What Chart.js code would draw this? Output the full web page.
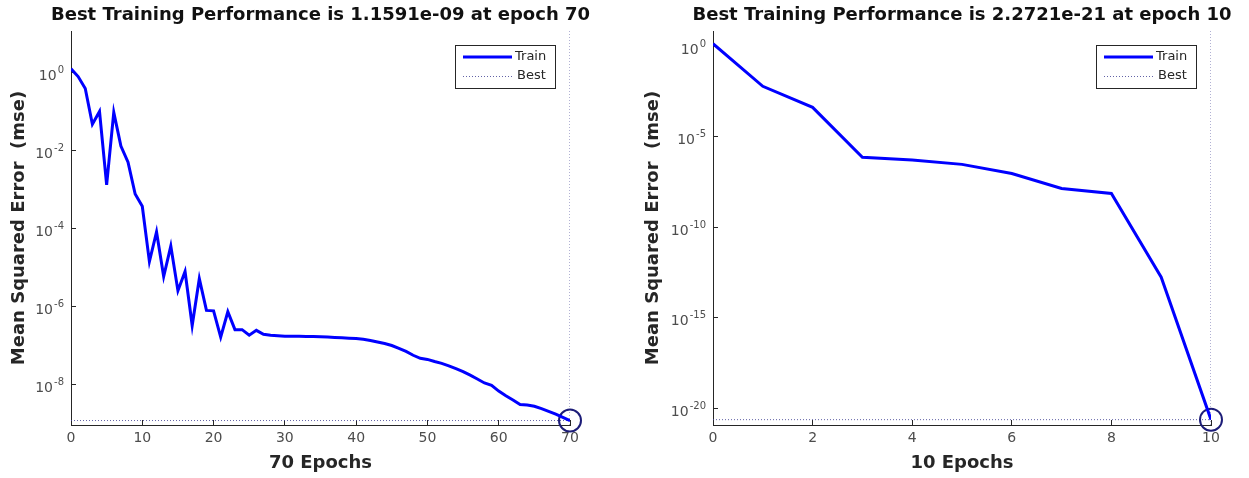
<!DOCTYPE html>
<html>
<head>
<meta charset="utf-8">
<title>Training performance</title>
<script src="https://cdn.jsdelivr.net/npm/chart.js@4.4.1/dist/chart.umd.min.js"></script>
<style>
  body { margin: 0; background: #fff; }
  #wrap { position: relative; width: 1249px; height: 478px; }
  canvas { position: absolute; top: 0; }
  #perfA { left: 0; }
  #perfB { left: 634px; }
</style>
</head>
<body>
<div id="wrap">
  <canvas id="perfA" width="624" height="478"></canvas>
  <canvas id="perfB" width="615" height="478"></canvas>
</div>
<script>
// run 1: 70 epochs
const titleA = 'Best Training Performance is 1.1591e-09 at epoch 70';
const xTitleA = '70 Epochs';
const mseA = [
  1.26, 0.79, 0.39, 0.047, 0.10, 1.3e-3, 0.095, 0.013, 5.0e-3, 7.6e-4,
  3.7e-4, 1.4e-5, 8.1e-5, 5.8e-6, 3.5e-5, 2.5e-6, 7.8e-6, 3.2e-7, 5.1e-6, 7.8e-7,
  7.6e-7, 1.6e-7, 7.2e-7, 2.5e-7, 2.5e-7, 1.8e-7, 2.4e-7, 1.9e-7, 1.8e-7, 1.75e-7,
  1.7e-7, 1.7e-7, 1.7e-7, 1.68e-7, 1.66e-7, 1.65e-7, 1.62e-7, 1.58e-7, 1.55e-7, 1.51e-7,
  1.48e-7, 1.41e-7, 1.32e-7, 1.2e-7, 1.1e-7, 9.8e-8, 8.3e-8, 6.9e-8, 5.5e-8, 4.6e-8,
  4.3e-8, 3.8e-8, 3.4e-8, 2.95e-8, 2.5e-8, 2.1e-8, 1.7e-8, 1.35e-8, 1.07e-8, 9.3e-9,
  6.6e-9, 5.0e-9, 3.9e-9, 3.0e-9, 2.9e-9, 2.7e-9, 2.35e-9, 2.0e-9, 1.7e-9, 1.4e-9,
  1.1591e-9
];
const bestA = 1.1591e-9;
const bestEpochA = 70;
const xStepA = 10;
const yTicksA = [1, 1e-2, 1e-4, 1e-6, 1e-8];
const yTickExpA = ['0', '-2', '-4', '-6', '-8'];
const yRangeA = [8.9e-10, 11.7];

// run 2: 10 epochs
const titleB = 'Best Training Performance is 2.2721e-21 at epoch 10';
const xTitleB = '10 Epochs';
const mseB = [1.35, 6.0e-3, 4.1e-4, 7.1e-7, 5.0e-7, 2.9e-7, 9.1e-8, 1.35e-8, 7.1e-9, 1.7e-13, 2.2721e-21];
const bestB = 2.2721e-21;
const bestEpochB = 10;
const xStepB = 2;
const yTicksB = [1, 1e-5, 1e-10, 1e-15, 1e-20];
const yTickExpB = ['0', '-5', '-10', '-15', '-20'];
const yRangeB = [1.15e-21, 6.8];

const yTitle = 'Mean Squared Error  (mse)';
const tickBase = '10';
const legendLabels = ['Train', 'Best'];

Chart.defaults.font.family = '"DejaVu Sans", sans-serif';
const axisColor = '#262626';
const tickColor = '#4d4d4d';
const bestColor = 'rgba(70, 70, 150, 0.85)';

// figure title, powers-of-ten tick labels and a boxed legend
const matlabDecor = {
  id: 'matlabDecor',
  afterDraw(chart, args, opts) {
    const { ctx, chartArea: a } = chart;
    ctx.save();
    ctx.fillStyle = '#111';
    ctx.font = 'bold 18px "DejaVu Sans"';
    ctx.textAlign = 'center';
    ctx.textBaseline = 'middle';
    ctx.fillText(opts.title, (a.left + a.right) / 2, 15);

    // y tick labels as 10 with a raised exponent
    const ys = chart.scales.y;
    ctx.fillStyle = tickColor;
    ctx.textAlign = 'left';
    opts.tickValues.forEach((v, i) => {
      const py = ys.getPixelForValue(v);
      ctx.font = '10px "DejaVu Sans"';
      const ew = ctx.measureText(opts.tickExp[i]).width;
      ctx.font = '14px "DejaVu Sans"';
      const bw = ctx.measureText(tickBase).width;
      const xr = ys.right - 7;
      ctx.fillText(tickBase, xr - ew - bw - 1, py + 4);
      ctx.font = '10px "DejaVu Sans"';
      ctx.fillText(opts.tickExp[i], xr - ew, py - 2);
    });

    const bw = 100, bh = 43;
    const bx = Math.round(a.right - 15 - bw), by = Math.round(a.top + 14);
    ctx.fillStyle = '#fff';
    ctx.fillRect(bx, by, bw, bh);
    ctx.strokeStyle = axisColor;
    ctx.lineWidth = 1;
    ctx.strokeRect(bx + 0.5, by + 0.5, bw, bh);

    ctx.strokeStyle = '#0000ff';
    ctx.lineWidth = 3;
    ctx.beginPath();
    ctx.moveTo(bx + 8, by + 12);
    ctx.lineTo(bx + 57, by + 12);
    ctx.stroke();

    ctx.strokeStyle = bestColor;
    ctx.lineWidth = 1;
    ctx.setLineDash([1, 2]);
    ctx.beginPath();
    ctx.moveTo(bx + 8, by + 31.5);
    ctx.lineTo(bx + 57, by + 31.5);
    ctx.stroke();
    ctx.setLineDash([]);

    ctx.fillStyle = axisColor;
    ctx.font = '13px "DejaVu Sans"';
    ctx.fillText(opts.labels[0], bx + 60, by + 12);
    ctx.fillText(opts.labels[1], bx + 62, by + 31);
    ctx.restore();
  }
};

function perfChart(id, cfg) {
  const train = cfg.mse.map((v, i) => ({ x: i, y: v }));
  return new Chart(document.getElementById(id), {
    type: 'line',
    data: {
      datasets: [
        {
          label: 'Train',
          data: train,
          borderColor: '#0000ff',
          borderWidth: 3,
          pointRadius: 0,
          tension: 0
        },
        {
          label: 'Best circle',
          data: [{ x: cfg.bestEpoch, y: cfg.best }],
          showLine: false,
          pointRadius: 11,
          pointBorderWidth: 2,
          pointBorderColor: '#1c1c78',
          pointBackgroundColor: 'rgba(0,0,0,0)',
          clip: false
        },
        {
          label: 'Best',
          data: [{ x: 0, y: cfg.best }, { x: cfg.bestEpoch, y: cfg.best }],
          borderColor: bestColor,
          borderWidth: 1,
          borderDash: [1, 2],
          pointRadius: 0
        },
        {
          label: 'Best epoch',
          data: [{ x: cfg.bestEpoch, y: cfg.yRange[0] }, { x: cfg.bestEpoch, y: cfg.yRange[1] }],
          borderColor: bestColor,
          borderWidth: 1,
          borderDash: [1, 2],
          pointRadius: 0
        }
      ]
    },
    options: {
      responsive: false,
      animation: false,
      layout: { padding: { left: 0, top: 31, right: cfg.padRight, bottom: 0 } },
      plugins: {
        legend: { display: false },
        tooltip: { enabled: false },
        matlabDecor: {
          title: cfg.title,
          labels: legendLabels,
          tickValues: cfg.yTicks,
          tickExp: cfg.yTickExp
        }
      },
      scales: {
        x: {
          type: 'linear',
          min: 0,
          max: cfg.mse.length - 1,
          afterFit: (s) => { s.height = 53; },
          ticks: {
            stepSize: cfg.xStep,
            color: tickColor,
            font: { size: 14 },
            padding: 10,
            maxRotation: 0
          },
          grid: { drawOnChartArea: false, tickLength: -5, color: axisColor },
          border: { color: axisColor, width: 1 },
          title: {
            display: true,
            text: cfg.xTitle,
            color: axisColor,
            font: { size: 18, weight: 'bold' },
            padding: { top: 0, bottom: 4 }
          }
        },
        y: {
          type: 'logarithmic',
          min: cfg.yRange[0],
          max: cfg.yRange[1],
          afterFit: (s) => { s.width = cfg.yWidth; },
          afterBuildTicks: (s) => { s.ticks = cfg.yTicks.map(v => ({ value: v })); },
          ticks: { display: false },
          grid: { drawOnChartArea: false, tickLength: -5, color: axisColor },
          border: { color: axisColor, width: 1 },
          title: {
            display: true,
            text: yTitle,
            color: axisColor,
            font: { size: 18, weight: 'bold' },
            padding: { top: 9, bottom: 0 }
          }
        }
      }
    },
    plugins: [matlabDecor]
  });
}

perfChart('perfA', {
  title: titleA, xTitle: xTitleA, mse: mseA, best: bestA, bestEpoch: bestEpochA,
  xStep: xStepA, yTicks: yTicksA, yTickExp: yTickExpA, yRange: yRangeA,
  yWidth: 71, padRight: 54
});

perfChart('perfB', {
  title: titleB, xTitle: xTitleB, mse: mseB, best: bestB, bestEpoch: bestEpochB,
  xStep: xStepB, yTicks: yTicksB, yTickExp: yTickExpB, yRange: yRangeB,
  yWidth: 79, padRight: 38
});
</script>
</body>
</html>
